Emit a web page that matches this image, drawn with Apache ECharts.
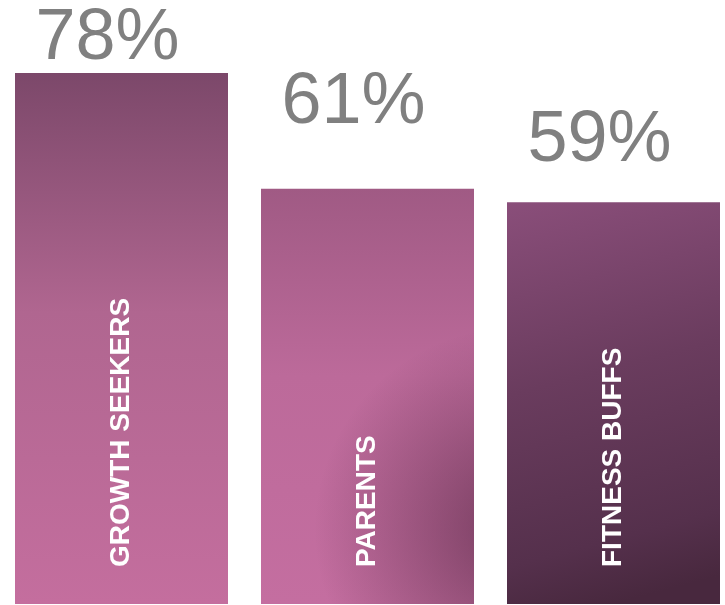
<!DOCTYPE html>
<html>
<head>
<meta charset="utf-8">
<script src="https://cdn.jsdelivr.net/npm/echarts@6/dist/echarts.min.js"></script>
<style>
html,body{margin:0;padding:0;background:#fff;}
#chart{width:725px;height:605px;}
</style>
</head>
<body>
<div id="chart"></div>
<script>
var categories = ['GROWTH SEEKERS', 'PARENTS', 'FITNESS BUFFS'];
var values = [78, 61, 59];
var valueLabels = ['78%', '61%', '59%'];

var labelDistances = [-2, 50, 25];
var baseFills = [
  new echarts.graphic.LinearGradient(0, 0, 0, 1, [
    {offset: 0, color: '#7c486a'},
    {offset: 0.45, color: '#b06690'},
    {offset: 1, color: '#c46e9e'}
  ]),
  new echarts.graphic.LinearGradient(0, 0, 0, 1, [
    {offset: 0, color: '#a05a84'},
    {offset: 0.45, color: '#bc6a9a'},
    {offset: 1, color: '#c46ea0'}
  ]),
  new echarts.graphic.LinearGradient(0, 0, 0.5, 1, [
    {offset: 0, color: '#8a4e7a'},
    {offset: 0.45, color: '#6a3c5e'},
    {offset: 0.85, color: '#55304c'},
    {offset: 1, color: '#48283e'}
  ])
];
var overlayFills = [
  'rgba(0,0,0,0)',
  new echarts.graphic.RadialGradient(1.2, 0.82, 0.95, [
    {offset: 0, color: 'rgba(70,30,55,0.6)'},
    {offset: 0.25, color: 'rgba(70,30,55,0.45)'},
    {offset: 1, color: 'rgba(70,30,55,0)'}
  ]),
  'rgba(0,0,0,0)'
];

var chart = echarts.init(document.getElementById('chart'), null, {renderer: 'canvas'});
var seriesData = values.map(function (v, i) {
  return {
    value: v,
    itemStyle: {color: baseFills[i]},
    label: {distance: labelDistances[i]}
  };
});
var overlayData = values.map(function (v, i) {
  return {value: v, itemStyle: {color: overlayFills[i]}};
});
chart.setOption({
  animation: false,
  grid: {left: -1.5, width: 738, top: 73, bottom: 1, outerBoundsMode: 'none', containLabel: false},
  xAxis: {
    type: 'category',
    data: categories,
    axisLine: {show: false},
    axisTick: {show: false},
    axisLabel: {show: false},
    splitLine: {show: false}
  },
  yAxis: {
    type: 'value',
    min: 0,
    max: 78,
    show: false,
    splitLine: {show: false}
  },
  series: [
    {
      type: 'bar',
      data: seriesData,
      barWidth: 213,
      label: {
        show: true,
        position: 'top',
        offset: [-14, 0],
        formatter: function (p) { return valueLabels[p.dataIndex]; },
        fontFamily: 'Liberation Sans, Arial, sans-serif',
        fontSize: 72,
        color: '#808080'
      }
    },
    {
      type: 'bar',
      data: overlayData,
      barWidth: 213,
      barGap: '-100%',
      label: {
        show: true,
        position: 'insideBottom',
        rotate: 90,
        align: 'left',
        verticalAlign: 'middle',
        distance: 37,
        formatter: function (p) { return categories[p.dataIndex]; },
        fontFamily: 'Liberation Sans, Arial, sans-serif',
        fontWeight: 'bold',
        fontSize: 28,
        color: '#ffffff'
      }
    }
  ]
});
</script>
</body>
</html>
